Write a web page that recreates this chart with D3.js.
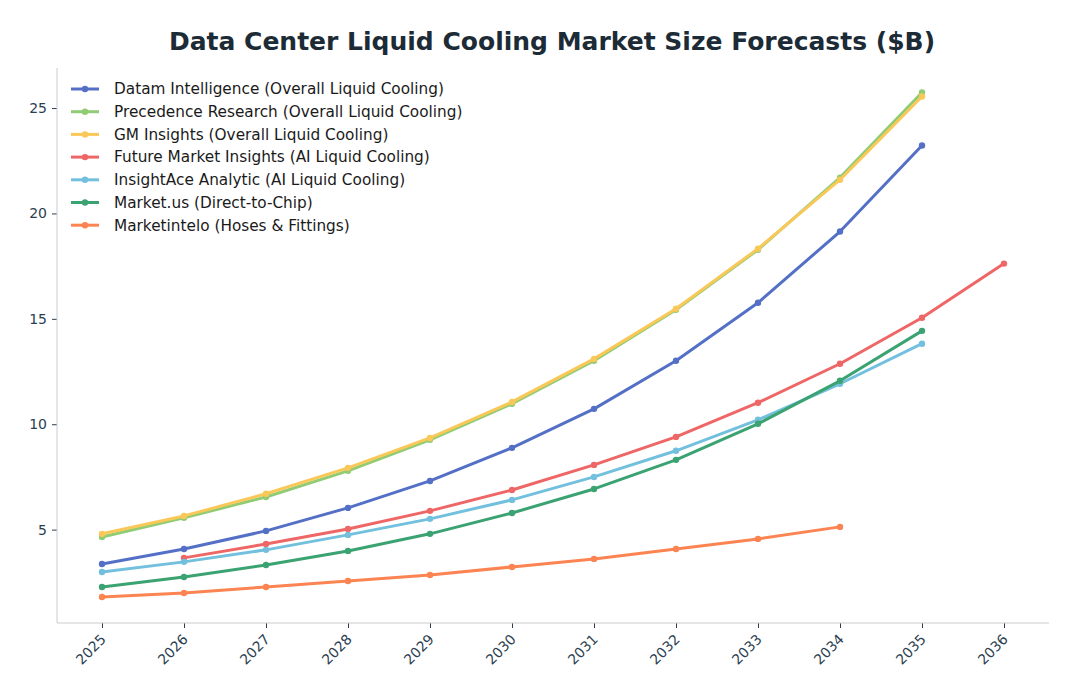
<!DOCTYPE html>
<html><head><meta charset="utf-8">
<script src="https://cdn.jsdelivr.net/npm/d3@7"></script>
<style>
body{margin:0;background:#fff;}
svg, svg text{font-family:"DejaVu Sans",sans-serif;}
.tick text{font-size:14px;fill:#2c3e50;}
</style></head>
<body><svg id="chart" width="1079" height="697"></svg>
<script>
const years = [2025,2026,2027,2028,2029,2030,2031,2032,2033,2034,2035,2036];
const seriesNames = [
  "Datam Intelligence (Overall Liquid Cooling)",
  "Precedence Research (Overall Liquid Cooling)",
  "GM Insights (Overall Liquid Cooling)",
  "Future Market Insights (AI Liquid Cooling)",
  "InsightAce Analytic (AI Liquid Cooling)",
  "Market.us (Direct-to-Chip)",
  "Marketintelo (Hoses & Fittings)"
];
const datamValues = [3.37,4.08,4.94,6.03,7.31,8.88,10.73,13.01,15.76,19.14,23.22,null];
const precedenceValues = [4.65,5.56,6.55,7.79,9.26,10.97,13.01,15.43,18.28,21.70,25.74,null];
const gmValues = [4.80,5.65,6.70,7.93,9.35,11.06,13.10,15.48,18.33,21.60,25.55,null];
const fmiValues = [null,3.66,4.32,5.03,5.89,6.88,8.07,9.40,11.02,12.87,15.05,17.62];
const insightAceValues = [2.99,3.47,4.04,4.75,5.51,6.41,7.50,8.74,10.21,11.92,13.82,null];
const marketUsValues = [2.28,2.75,3.32,3.99,4.80,5.79,6.93,8.31,10.02,12.06,14.43,null];
const marketinteloValues = [1.80,1.99,2.28,2.56,2.85,3.23,3.61,4.08,4.56,5.13,null,null];
const yTicks = [5,10,15,20,25];
const colors = ["#5470c6","#91cc75","#fac858","#ee6666","#73c0de","#3ba272","#fc8452"];
const allSeries = [datamValues,precedenceValues,gmValues,fmiValues,insightAceValues,marketUsValues,marketinteloValues];

const svg = d3.select("#chart");
const m = {left:57, right:1049, top:68, bottom:623};
const x = d3.scalePoint().domain(years).range([102,1004]);
const y = d3.scaleLinear().domain([0.57,26.9]).range([m.bottom,m.top]);

svg.append("text").attr("x",552).attr("y",50).attr("text-anchor","middle")
  .attr("font-size",25).attr("font-weight","bold").attr("fill","#1c2b36")
  .text("Data Center Liquid Cooling Market Size Forecasts ($B)");

// axes
const xAxis = svg.append("g").attr("transform",`translate(0,${m.bottom})`)
  .call(d3.axisBottom(x).tickSize(5).tickPadding(4).tickSizeOuter(0));
xAxis.select(".domain").remove();
xAxis.selectAll("text")
  .attr("text-anchor","end").attr("transform","rotate(-45)").attr("dx","-0.65em").attr("dy","0.45em");
xAxis.selectAll("line").attr("stroke","#2c3e50");
const yAxis = svg.append("g").attr("transform",`translate(${m.left},0)`)
  .call(d3.axisLeft(y).tickValues(yTicks).tickSize(5).tickPadding(5));
yAxis.select(".domain").remove();
yAxis.selectAll("line").attr("stroke","#2c3e50");
svg.append("line").attr("x1",m.left).attr("x2",m.left).attr("y1",m.top).attr("y2",m.bottom).attr("stroke","#c8ccd0");
svg.append("line").attr("x1",m.left).attr("x2",m.right).attr("y1",m.bottom).attr("y2",m.bottom).attr("stroke","#c8ccd0");

const line = d3.line().defined(d=>d.v!=null).x(d=>x(d.yr)).y(d=>y(d.v));
allSeries.forEach((vals,i)=>{
  const pts = years.map((yr,j)=>({yr,v:vals[j]}));
  const g = svg.append("g");
  g.append("path").datum(pts).attr("d",line).attr("fill","none")
    .attr("stroke",colors[i]).attr("stroke-width",3).attr("stroke-linejoin","round");
  g.selectAll("circle").data(pts.filter(d=>d.v!=null)).join("circle")
    .attr("cx",d=>x(d.yr)).attr("cy",d=>y(d.v)).attr("r",3.2).attr("fill",colors[i]);
});

// legend
const lg = svg.append("g");
seriesNames.forEach((n,i)=>{
  const yy = 89 + i*22.7;
  lg.append("line").attr("x1",71).attr("x2",99).attr("y1",yy).attr("y2",yy).attr("stroke",colors[i]).attr("stroke-width",3);
  lg.append("circle").attr("cx",85).attr("cy",yy).attr("r",3.2).attr("fill",colors[i]);
  lg.append("text").attr("x",114).attr("y",yy).attr("dy","0.35em").attr("font-size",15.3).attr("fill","#1a1a1a").text(n);
});
</script></body></html>
